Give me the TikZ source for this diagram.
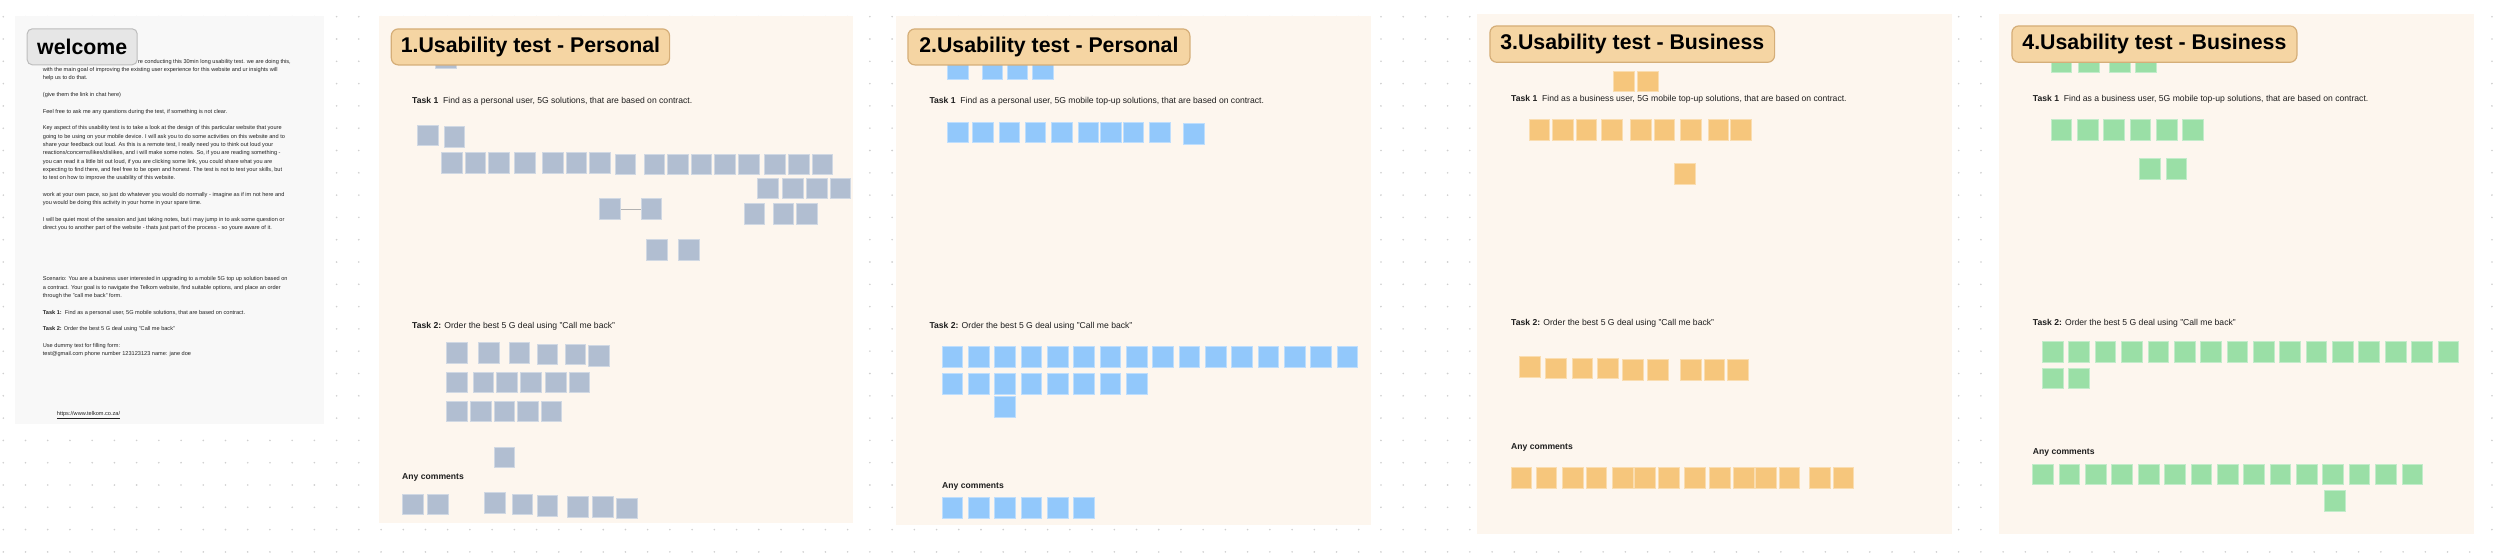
\documentclass[tikz,border=0pt]{standalone}
\usepackage{fontspec}
\setmainfont{Liberation Sans}
\definecolor{gnote}{HTML}{B1BED1}
\definecolor{bnote}{HTML}{92C8FB}
\definecolor{onote}{HTML}{F6C67C}
\definecolor{grnote}{HTML}{9ADFA6}
\definecolor{panelbg}{HTML}{FDF6EE}
\definecolor{welcomebg}{HTML}{F8F8F8}
\definecolor{titlefill}{HTML}{F5D5A3}
\definecolor{titledraw}{HTML}{D5AE78}
\definecolor{wfill}{HTML}{E6E6E6}
\definecolor{wdraw}{HTML}{BDBDBD}
\definecolor{dotc}{HTML}{CFCFCF}
\definecolor{ink}{HTML}{1E1E1E}
\definecolor{bodyink}{HTML}{222222}
\tikzset{
  note/.style={rectangle, fill=#1, draw=#1!60!white, line width=0.5pt, minimum width=20.7pt, minimum height=20.7pt, inner sep=0pt, anchor=north west},
  panel/.style={rectangle, inner sep=0pt, anchor=north west, draw=none},
  titlebox/.style={rectangle, rounded corners=7pt, fill=titlefill, draw=titledraw, line width=1.2pt, anchor=north west, inner sep=0pt, text=black, font=\fontsize{21.3}{25}\selectfont\bfseries},
  body/.style={inner sep=0pt, anchor=base west, text=bodyink, font=\fontsize{5.6}{6.5}\selectfont},
  tasklbl/.style={inner sep=0pt, anchor=base west, text=ink, font=\fontsize{8.6}{10}\selectfont},
  anyc/.style={inner sep=0pt, anchor=base west, text=ink, font=\fontsize{8.6}{10}\selectfont\bfseries},
}
\newcommand\notelist[3]{\foreach \xx/\yy [count=\k] in {#3} {\node[note=#2] (#1\k) at (\xx,\yy) {};}}
\newcommand\noterow[6]{\foreach \k in {1,...,#6} {\node[note=#2] (#1\k) at ({#3+#4*(\k-1)},#5) {};}}
\begin{document}
\begin{tikzpicture}[x=1pt,y=-1pt]
\useasboundingbox (0,0) rectangle (2500,552);
\fill[white] (0,0) rectangle (2500,552);
% grid dots
\foreach \i in {0,...,112} {\foreach \j in {0,...,24} {\fill[dotc] ({3.3+22.22*\i},{16.7+22.3*\j}) circle (0.9);}}
% ---------- welcome panel ----------
\node[panel, fill=welcomebg, minimum width=309.3pt, minimum height=408.7pt] (wpanel) at (14.7,15.3) {};
\node[body, anchor=base east] (w0) at (291,63.2) {re conducting this 30min long usability test. we are doing this,};
\node[body] (w1) at (42.7,71.5) {with the main goal of improving the existing user experience for this website and ur insights will};
\node[body] (w2) at (42.7,79.8) {help us to do that.};
\node[body] (w3) at (42.7,96.5) {(give them the link in chat here)};
\node[body] (w4) at (42.7,113.2) {Feel free to ask me any questions during the test, if something is not clear.};
\node[body] (w5) at (42.7,129.8) {Key aspect of this usability test is to take a look at the design of this particular website that youre};
\node[body] (w6) at (42.7,138.2) {going to be using on your mobile device. I will ask you to do some activities on this website and to};
\node[body] (w7) at (42.7,146.5) {share your feedback out loud. As this is a remote test, I really need you to think out loud your};
\node[body] (w8) at (42.7,154.8) {reactions/concerns/likes/dislikes, and i will make some notes. So, if you are reading something -};
\node[body] (w9) at (42.7,163.2) {you can read it a little bit out loud, if you are clicking some link, you could share what you are};
\node[body] (w10) at (42.7,171.5) {expecting to find there, and feel free to be open and honest. The test is not to test your skills, but};
\node[body] (w11) at (42.7,179.8) {to test on how to improve the usability of this website.};
\node[body] (w12) at (42.7,196.5) {work at your own pace, so just do whatever you would do normally - imagine as if im not here and};
\node[body] (w13) at (42.7,204.8) {you would be doing this activity in your home in your spare time.};
\node[body] (w14) at (42.7,221.5) {I will be quiet most of the session and just taking notes, but i may jump in to ask some question or};
\node[body] (w15) at (42.7,229.8) {direct you to another part of the website - thats just part of the process - so youre aware of it.};
\node[body] (w16) at (42.7,280.8) {Scenario: You are a business user interested in upgrading to a mobile 5G top up solution based on};
\node[body] (w17) at (42.7,289.2) {a contract. Your goal is to navigate the Telkom website, find suitable options, and place an order};
\node[body] (w18) at (42.7,297.5) {through the "call me back" form.};
\node[body] (w19) at (42.7,314.2) {\textbf{Task 1:}\ \ Find as a personal user, 5G mobile solutions, that are based on contract.};
\node[body] (w20) at (42.7,330.8) {\textbf{Task 2:} Order the best 5 G deal using "Call me back"};
\node[body] (w21) at (42.7,347.5) {Use dummy text for filling form:};
\node[body] (w22) at (42.7,355.5) {test@gmail.com phone number 123123123 name: jane doe};
\node[body] (wlink) at (56.7,415.5) {\underline{https://www.telkom.co.za/}};
\node[rectangle, rounded corners=5pt, fill=wfill, draw=wdraw, line width=1pt, anchor=north west, minimum width=110pt, minimum height=36pt, inner sep=0pt, font=\fontsize{21.3}{24}\selectfont\bfseries] (wtitle) at (26.7,28.3) {welcome};
% ---------- panel 1 ----------
\node[panel, fill=panelbg, minimum width=474.7pt, minimum height=506.3pt] (p1) at (378.3,16) {};
\node[note=gnote] (p1h) at (435.3,47) {};
\node[titlebox, minimum width=278.3pt, minimum height=36pt] (t1) at (390.7,28.3) {1.Usability test - Personal};
\node[tasklbl] (p1t1) at (412,103) {\textbf{Task 1}\ \ Find as a personal user, 5G solutions, that are based on contract.};
\notelist{p1a}{gnote}{417.3/124.7, 443.7/126}
\notelist{p1b}{gnote}{441/152.3, 464.7/152.3, 488/152.3, 514.3/152.3, 542.3/152.3, 565.7/152.3, 589.3/152.3, 614.7/153.7, 643.7/153.7, 667/153.7, 690.7/153.7, 714.3/153.7, 738/153.7, 764.3/153.7, 788/153.7, 811.7/153.7}
\notelist{p1c}{gnote}{757.3/177.7, 782.3/177.7, 806/177.7, 829.7/177.7}
\notelist{p1d}{gnote}{743.7/203.3, 772.7/203.3, 796.3/203.3}
\notelist{p1p}{gnote}{599.3/198.3, 640.7/198.3}
\draw[gray!60, line width=0.5pt] (p1p1.east) -- (p1p2.west);
\notelist{p1e}{gnote}{646.3/239.3, 678/239.3}
\node[tasklbl] (p1t2) at (412,328.3) {\textbf{Task 2:} Order the best 5 G deal using "Call me back"};
\notelist{p1f}{gnote}{446.3/342.3, 478.3/342.3, 508.7/342.3, 536.7/343.7, 564.7/343.7, 588/345.3}
\notelist{p1g}{gnote}{446.3/371.7, 472.7/371.7, 496.3/371.7, 520/371.7, 545/371.7, 568.7/371.7}
\notelist{p1h}{gnote}{446.3/400.7, 470/400.7, 493.7/400.7, 517/400.7, 540.7/400.7}
\node[note=gnote] (p1s) at (493.7,446.7) {};
\node[anyc] (p1ac) at (402,479.7) {Any comments};
\notelist{p1k}{gnote}{402/493.7, 427/493.7, 484/492.3, 511.7/493.7, 536.7/495, 567.3/496.3, 592.3/496.3, 616/497.7}
% ---------- panel 2 ----------
\node[panel, fill=panelbg, minimum width=475pt, minimum height=509pt] (p2) at (895.7,16) {};
\notelist{p2h}{bnote}{947/58.6, 981.7/58.6, 1006.7/58.6, 1032/58.6}
\node[titlebox, minimum width=282pt, minimum height=36pt] (t2) at (907.3,28.3) {2.Usability test - Personal};
\node[tasklbl] (p2t1) at (929.3,103.7) {\textbf{Task 1}\ \ Find as a personal user, 5G mobile top-up solutions, that are based on contract.};
\notelist{p2a}{bnote}{947/121.7, 972/121.7, 998.7/121.7, 1024.7/121.7, 1051.3/121.7, 1077.7/121.7, 1100/121.7, 1122.7/121.7, 1149/121.7, 1183/123.3}
\node[tasklbl] (p2t2) at (929.3,328.3) {\textbf{Task 2:} Order the best 5 G deal using "Call me back"};
\noterow{p2b}{bnote}{941.7}{26.33}{346.3}{16}
\noterow{p2c}{bnote}{941.7}{26.33}{373}{8}
\node[note=bnote] (p2s) at (994.3,396.3) {};
\node[anyc] (p2ac) at (942,488) {Any comments};
\noterow{p2k}{bnote}{941.7}{26.33}{497}{6}
% ---------- panel 3 ----------
\node[panel, fill=panelbg, minimum width=474.7pt, minimum height=520pt] (p3) at (1477,13.3) {};
\node[titlebox, minimum width=284.7pt, minimum height=36.4pt] (t3) at (1489.3,25.3) {3.Usability test - Business};
\notelist{p3h}{onote}{1613.3/70.7, 1637/70.7}
\node[tasklbl] (p3t1) at (1511,101) {\textbf{Task 1}\ \ Find as a business user, 5G mobile top-up solutions, that are based on contract.};
\notelist{p3a}{onote}{1528.7/119, 1552/119, 1575.7/119, 1601/119, 1630/119, 1653.7/119, 1680/119, 1707.7/119, 1730/119}
\node[note=onote] (p3s) at (1674.3,163.3) {};
\node[tasklbl] (p3t2) at (1511,325.7) {\textbf{Task 2:} Order the best 5 G deal using "Call me back"};
\notelist{p3b}{onote}{1519/356.3, 1545.3/357.7, 1571.7/357.7, 1597/357.7, 1622/359, 1647/359, 1680/359, 1703.7/359, 1727.3/359}
\node[anyc] (p3ac) at (1511,449) {Any comments};
\notelist{p3k}{onote}{1510.7/467.3, 1535.7/467.3, 1562/467.3, 1585.7/467.3, 1612/467.3, 1634.3/467.3, 1658/467.3, 1684.3/467.3, 1709.3/467.3, 1733/467.3, 1755.3/467.3, 1778.7/467.3, 1809/467.3, 1832.7/467.3}
% ---------- panel 4 ----------
\node[panel, fill=panelbg, minimum width=475pt, minimum height=520pt] (p4) at (1998.7,13.3) {};
\notelist{p4h}{grnote}{2050.7/51, 2078/51, 2109/51, 2135/51}
\node[titlebox, minimum width=285pt, minimum height=36.4pt] (t4) at (2011.3,25.3) {4.Usability test - Business};
\node[tasklbl] (p4t1) at (2032.7,101) {\textbf{Task 1}\ \ Find as a business user, 5G mobile top-up solutions, that are based on contract.};
\noterow{p4a}{grnote}{2050.7}{26.33}{119}{6}
\notelist{p4b}{grnote}{2139.3/158, 2165.7/158}
\node[tasklbl] (p4t2) at (2032.7,325.7) {\textbf{Task 2:} Order the best 5 G deal using "Call me back"};
\noterow{p4c}{grnote}{2042}{26.37}{341}{16}
\noterow{p4d}{grnote}{2042}{26.37}{367.7}{2}
\node[anyc] (p4ac) at (2032.7,454.7) {Any comments};
\noterow{p4k}{grnote}{2032.3}{26.37}{463.7}{15}
\node[note=grnote] (p4s) at (2324,490) {};
\end{tikzpicture}
\end{document}
